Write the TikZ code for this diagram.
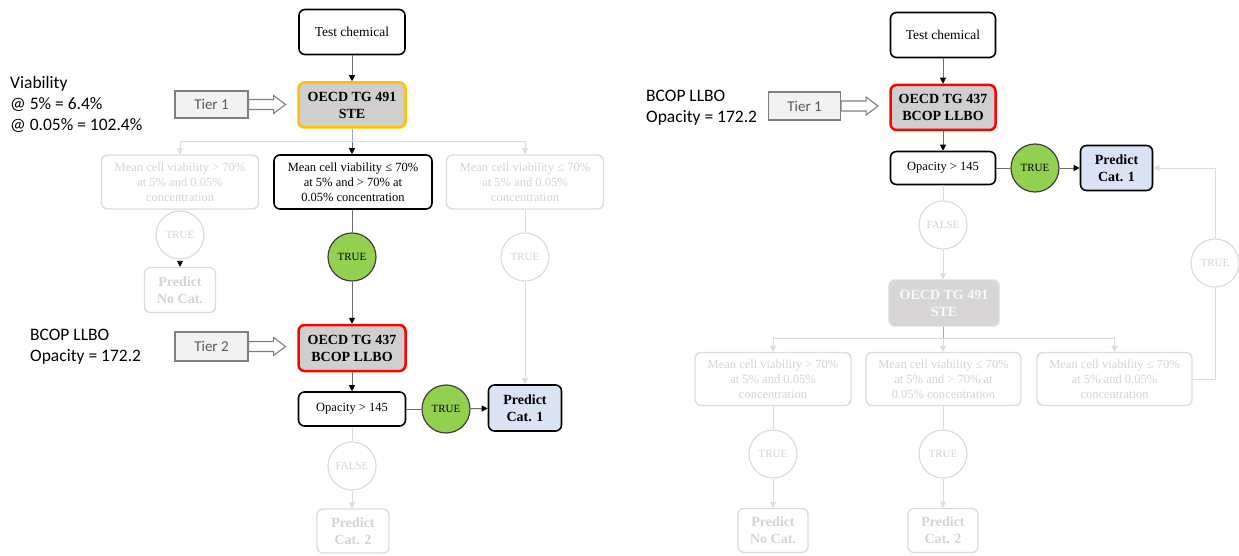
\documentclass[tikz,border=0pt]{standalone}
\usepackage{fontspec}
\setmainfont{Liberation Serif}
\newfontfamily\calib{Carlito}
\usetikzlibrary{arrows.meta}
\definecolor{orangeb}{HTML}{FFC000}
\definecolor{redb}{HTML}{FF0000}
\definecolor{stefill}{HTML}{D0CECE}
\definecolor{predfill}{HTML}{DAE3F3}
\definecolor{greenf}{HTML}{92D050}
\definecolor{fadeline}{HTML}{DCDCDC}
\definecolor{fadetext}{HTML}{D4D4D4}
\definecolor{connc}{HTML}{6E6E6E}
\definecolor{bluish}{HTML}{8FAADC}
\definecolor{tierfill}{HTML}{F2F2F2}
\definecolor{tierdraw}{HTML}{7F7F7F}
\definecolor{tiertext}{HTML}{595959}
\begin{document}
\begin{tikzpicture}[x=1pt,y=-1pt,
  box/.style={draw=black,line width=1.6pt,rounded corners=6pt,fill=white,align=center,inner sep=1pt,
    font=\fontsize{12.5}{15}\selectfont},
  bigtxt/.style={font=\fontsize{13.5}{16}\selectfont},
  boldtxt/.style={font=\fontsize{14}{17}\selectfont\bfseries},
  faded/.style={draw=fadeline,line width=1.4pt,text=fadetext},
  circ/.style={circle,inner sep=0pt,minimum size=48pt,font=\fontsize{11}{13}\selectfont},
  greencirc/.style={circ,draw=black!75,line width=1.2pt,fill=greenf},
  fadecirc/.style={circ,draw=fadeline,line width=1.2pt,text=fadetext,fill=white},
  tier/.style={draw=tierdraw,line width=1.1pt,fill=tierfill,text=tiertext,inner sep=0pt,
    font=\calib\fontsize{15}{18}\selectfont},
  tierarrow/.style={draw=tierdraw,line width=1.1pt,fill=white},
  conn/.style={draw=connc,line width=0.9pt},
  arr/.style={conn,-{Triangle[width=6pt,length=6pt,color=black]}},
  fconn/.style={draw=fadeline,line width=0.9pt},
  farr/.style={fconn,-{Triangle[width=6pt,length=6pt,color=fadeline]}},
  fbarr/.style={fconn,-{Triangle[width=6pt,length=6pt,color=black]}},
  bline/.style={draw=bluish,line width=0.9pt},
  sidetxt/.style={align=left,inner sep=0pt,anchor=west,font=\calib\fontsize{17.5}{21}\selectfont}
]
\useasboundingbox (0,0) rectangle (1239,556);

% ================= LEFT DIAGRAM =================
\node[box,bigtxt,minimum width=106pt,minimum height=45pt] (tcL) at (352,32) {Test chemical};
\node[box,boldtxt,draw=orangeb,line width=2.5pt,fill=stefill,minimum width=107pt,minimum height=45pt] (steL) at (352,105) {OECD TG 491\\STE};
\node[tier,minimum width=73pt,minimum height=27pt] (t1L) at (211.5,104.5) {Tier 1};
\node[sidetxt] (vtxt) at (10,104) {Viability\\@ 5\% = 6.4\%\\@ 0.05\% = 102.4\%};

\node[box,faded,minimum width=157pt,minimum height=54pt] (mL1) at (180,182) {Mean cell viability > 70\%\\at 5\% and 0.05\%\\concentration};
\node[box,minimum width=158pt,minimum height=54pt] (mL2) at (353,182) {Mean cell viability ≤ 70\%\\at 5\% and > 70\% at\\0.05\% concentration};
\node[box,faded,minimum width=157pt,minimum height=54pt] (mL3) at (525,182) {Mean cell viability ≤ 70\%\\at 5\% and 0.05\%\\concentration};

\node[fadecirc] (tL1) at (180,235) {TRUE};
\node[box,faded,boldtxt,minimum width=71pt,minimum height=45pt] (pnL) at (180,290) {Predict\\No Cat.};
\node[greencirc] (tL2) at (352,257) {TRUE};
\node[fadecirc] (tL3) at (525,257) {TRUE};

\node[tier,minimum width=73pt,minimum height=29pt] (t2L) at (211.5,346.5) {Tier 2};
\node[sidetxt] (btxtL) at (30,347) {BCOP LLBO\\Opacity = 172.2};
\node[box,boldtxt,draw=redb,line width=2.5pt,fill=stefill,minimum width=107pt,minimum height=46pt] (bcL) at (352,348) {OECD TG 437\\BCOP LLBO};
\node[box,minimum width=107pt,minimum height=34pt] (opL) at (352,409) {Opacity > 145};
\node[greencirc] (tL4) at (446,409) {TRUE};
\node[box,boldtxt,fill=predfill,minimum width=73pt,minimum height=46pt] (pc1L) at (525,408) {Predict\\Cat. 1};
\node[fadecirc] (fL) at (352,466) {FALSE};
\node[box,faded,boldtxt,minimum width=72pt,minimum height=44pt] (pc2L) at (353,531) {Predict\\Cat. 2};

\coordinate (bL) at (352,141);
\draw[arr] (tcL) -- (steL);
\draw[bline] (steL.south) -- (bL);
\draw[arr] (bL) -- (bL |- mL2.north);
\draw[farr] (bL) -| (mL1.north);
\draw[farr] (bL) -| (mL3.north);
\draw[fconn] (mL1) -- (tL1);
\draw[fbarr] (tL1) -- (pnL);
\draw[conn] (mL2.south -| tL2) -- (tL2);
\draw[arr] (tL2) -- (bcL);
\draw[fconn] (mL3) -- (tL3);
\draw[farr] (tL3.south) -- (tL3.south |- pc1L.north);
\draw[arr] (bcL) -- (opL);
\draw[conn] (opL) -- (tL4);
\draw[arr] (tL4) -- (pc1L);
\draw[fconn] (opL) -- (fL);
\draw[farr] (fL) -- (fL |- pc2L.north);

\draw[tierarrow] ([yshift=5pt]t1L.east) -- ++(25,0) -- ++(0,-4) -- ++(12,9) -- ++(-12,9) -- ++(0,-4) -- ++(-25,0) -- cycle;
\draw[tierarrow] ([yshift=5pt]t2L.east) -- ++(25,0) -- ++(0,-4) -- ++(12,9) -- ++(-12,9) -- ++(0,-4) -- ++(-25,0) -- cycle;

% ================= RIGHT DIAGRAM =================
\node[box,bigtxt,minimum width=105pt,minimum height=45pt] (tcR) at (943,35) {Test chemical};
\node[box,boldtxt,draw=redb,line width=2.5pt,fill=stefill,minimum width=105pt,minimum height=45pt] (bcR) at (943,107.5) {OECD TG 437\\BCOP LLBO};
\node[tier,minimum width=72pt,minimum height=28pt] (t1R) at (804.5,106) {Tier 1};
\node[sidetxt] (btxtR) at (646,107.5) {BCOP LLBO\\Opacity = 172.2};
\node[box,minimum width=105pt,minimum height=33pt] (opR) at (943,168) {Opacity > 145};
\node[greencirc] (tR1) at (1035,168) {TRUE};
\node[box,boldtxt,fill=predfill,minimum width=72pt,minimum height=45pt] (pc1R) at (1116.5,168) {Predict\\Cat. 1};
\node[fadecirc] (fR) at (943,225) {FALSE};
\node[box,boldtxt,draw=fadeline,line width=1.4pt,fill=stefill!85,text=white!88!stefill,minimum width=110pt,minimum height=46pt] (steR) at (944,303) {OECD TG 491\\STE};

\node[box,faded,minimum width=156pt,minimum height=53pt] (mR1) at (773,379) {Mean cell viability > 70\%\\at 5\% and 0.05\%\\concentration};
\node[box,faded,minimum width=155pt,minimum height=53pt] (mR2) at (943.5,379) {Mean cell viability ≤ 70\%\\at 5\% and > 70\% at\\0.05\% concentration};
\node[box,faded,minimum width=155pt,minimum height=53pt] (mR3) at (1114.5,379) {Mean cell viability ≤ 70\%\\at 5\% and 0.05\%\\concentration};

\node[fadecirc] (tR2) at (773,454) {TRUE};
\node[fadecirc] (tR3) at (943,454) {TRUE};
\node[fadecirc] (tR4) at (1215,263) {TRUE};
\node[box,faded,boldtxt,minimum width=70pt,minimum height=44pt] (pnR) at (773,530.5) {Predict\\No Cat.};
\node[box,faded,boldtxt,minimum width=70pt,minimum height=44pt] (pc2R) at (943,530.5) {Predict\\Cat. 2};

\coordinate (bR) at (943,338);
\draw[arr] (tcR) -- (bcR);
\draw[arr] (bcR) -- (opR);
\draw[conn] (opR) -- (tR1);
\draw[arr] (tR1) -- (pc1R);
\draw[fconn] (opR) -- (fR);
\draw[farr] (fR) -- (fR |- steR.north);
\draw[bline] (steR.south -| bR) -- (bR);
\draw[farr] (bR) -- (bR |- mR2.north);
\draw[farr] (bR) -| (mR1.north);
\draw[farr] (bR) -| (mR3.north);
\draw[fconn] (mR1) -- (tR2);
\draw[farr] (tR2) -- (pnR);
\draw[fconn] (mR2.south -| tR3) -- (tR3);
\draw[farr] (tR3) -- (pc2R);
\draw[fconn] (mR3.east) -| (tR4.south);
\draw[farr] (tR4.north) |- (pc1R.east);

\draw[tierarrow] ([yshift=5pt]t1R.east) -- ++(25,0) -- ++(0,-4) -- ++(12,9) -- ++(-12,9) -- ++(0,-4) -- ++(-25,0) -- cycle;
\end{tikzpicture}
\end{document}
